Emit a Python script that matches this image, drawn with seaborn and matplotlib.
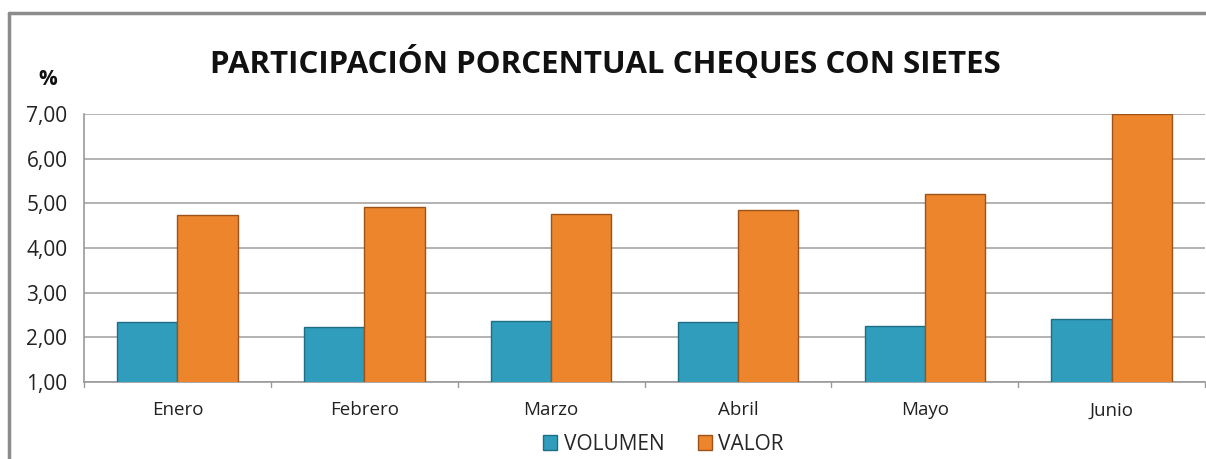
import pandas as pd
import matplotlib.pyplot as plt
import matplotlib.lines as mlines
import seaborn as sns

# datos
meses = ['Enero', 'Febrero', 'Marzo', 'Abril', 'Mayo', 'Junio']
volumen = [2.34, 2.22, 2.37, 2.34, 2.26, 2.40]
valor = [4.75, 4.92, 4.77, 4.84, 5.20, 7.00]
y_ticks = [1, 2, 3, 4, 5, 6, 7]
y_labels = ['1,00', '2,00', '3,00', '4,00', '5,00', '6,00', '7,00']

df = pd.DataFrame({
    'mes': meses * 2,
    'serie': ['VOLUMEN'] * len(meses) + ['VALOR'] * len(meses),
    'pct': volumen + valor,
})

sns.set_style('white')
plt.rcParams['font.family'] = ['Open Sans', 'DejaVu Sans']

fig = plt.figure(figsize=(12.06, 4.59), dpi=100)
ax = fig.add_axes([0.0697, 0.1678, 0.9295, 0.5838])

colores = {'VOLUMEN': '#2F9DBB', 'VALOR': '#EC852B'}
sns.barplot(data=df, x='mes', y='pct', hue='serie', palette=colores,
            width=0.645, ax=ax, legend=False, saturation=1)

bordes = {'#2F9DBB': '#1E6E86', '#EC852B': '#9C5218'}
for barra in ax.patches:
    c = '#%02X%02X%02X' % tuple(int(round(v * 255)) for v in barra.get_facecolor()[:3])
    barra.set_edgecolor(bordes.get(c, '#555555'))
    barra.set_linewidth(1.0)
    barra.set_zorder(3)

ax.set_ylim(1, 7)
ax.set_xlim(-0.5, 5.5)
ax.set_yticks(y_ticks)
ax.set_yticklabels(y_labels, fontsize=15, color='#222222')
ax.set_xticks(range(len(meses)))
ax.set_xticklabels(meses, fontsize=13.5, color='#222222')
ax.tick_params(axis='x', length=0, pad=14)
ax.tick_params(axis='y', length=8, width=1, color='#9A9A9A', pad=4, direction='out')
for xb in [i - 0.5 for i in range(len(meses) + 1)]:
    ax.plot([xb, xb], [0.0, -0.02], transform=ax.get_xaxis_transform(),
            color='#9A9A9A', lw=1, clip_on=False)

ax.yaxis.grid(True, color='#A6A6A6', linewidth=1.2)
ax.set_axisbelow(True)
for lado in ['top', 'right']:
    ax.spines[lado].set_visible(False)
for lado in ['left', 'bottom']:
    ax.spines[lado].set_color('#9A9A9A')
    ax.spines[lado].set_linewidth(1.2)
ax.set_xlabel('')
ax.set_ylabel('')

fig.text(0.502, 0.862, 'PARTICIPACIÓN PORCENTUAL CHEQUES CON SIETES',
         ha='center', va='center', fontsize=22.5, fontweight='bold', color='#111111')
fig.text(0.040, 0.826, '%', ha='center', va='center', fontsize=15,
         fontweight='bold', color='#111111')

# borde del gráfico
fig.add_artist(mlines.Line2D([0.0075, 0.0075], [0, 0.972], color='#8C8C8C', lw=2.5))
fig.add_artist(mlines.Line2D([0.0075, 1.0], [0.972, 0.972], color='#8C8C8C', lw=2.5))

handles = [plt.Rectangle((0, 0), 1, 1, facecolor=colores[s], edgecolor=bordes[colores[s]])
           for s in ['VOLUMEN', 'VALOR']]
fig.legend(handles, ['VOLUMEN', 'VALOR'], loc='center', bbox_to_anchor=(0.55, 0.032),
           ncol=2, frameon=False, fontsize=15, handlelength=0.7, handleheight=0.7,
           handletextpad=0.3, columnspacing=1.6)

fig.savefig('out.png', dpi=100)
